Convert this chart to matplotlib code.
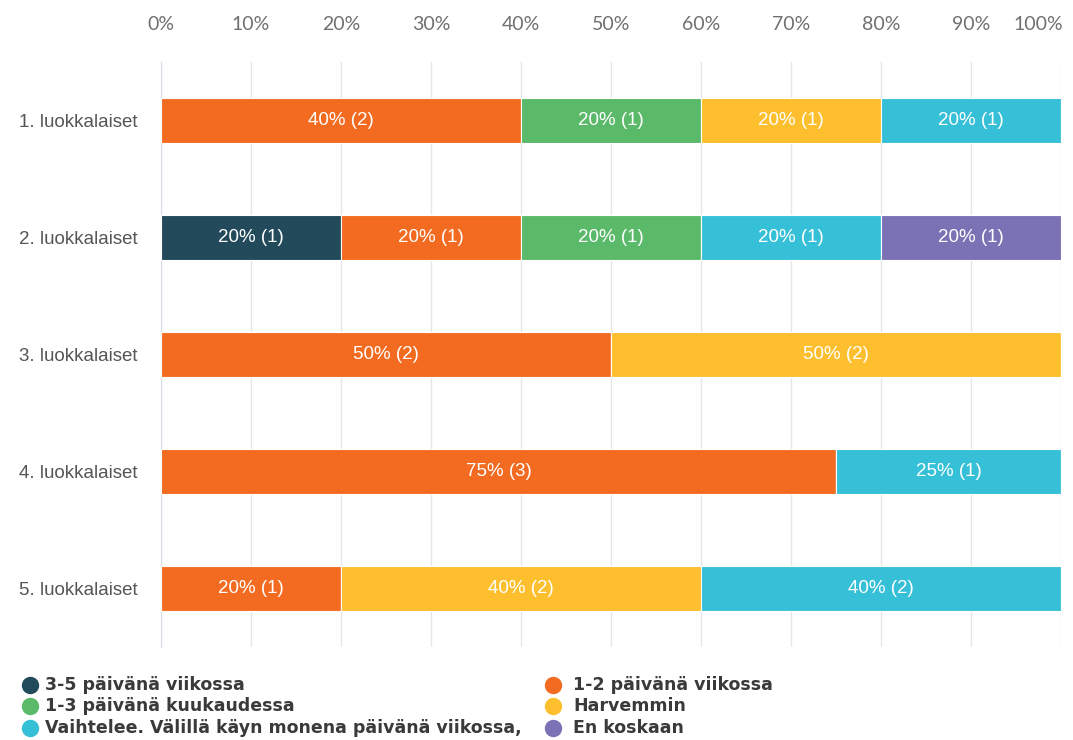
import numpy as np
import matplotlib
matplotlib.use('Agg')
import matplotlib.pyplot as plt
from matplotlib.lines import Line2D

groups = ['1. luokkalaiset', '2. luokkalaiset', '3. luokkalaiset', '4. luokkalaiset', '5. luokkalaiset']
answers = ['3-5 päivänä viikossa', '1-2 päivänä viikossa', '1-3 päivänä kuukaudessa',
           'Harvemmin', 'Vaihtelee. Välillä käyn monena päivänä viikossa,', 'En koskaan']
colors = ['#224a5a', '#f26b21', '#5bb96a', '#fdbf2d', '#36c0d8', '#7a72b5']

# counts per group, one column per answer
counts = np.array([
    [0, 2, 1, 1, 1, 0],
    [1, 1, 1, 0, 1, 1],
    [0, 2, 0, 2, 0, 0],
    [0, 3, 0, 0, 1, 0],
    [0, 1, 0, 2, 2, 0],
])
percents = np.array([
    [0, 40, 20, 20, 20, 0],
    [20, 20, 20, 0, 20, 20],
    [0, 50, 0, 50, 0, 0],
    [0, 75, 0, 0, 25, 0],
    [0, 20, 0, 40, 40, 0],
])
xticks = [0, 10, 20, 30, 40, 50, 60, 70, 80, 90, 100]

W, H = 1073, 740
fig = plt.figure(figsize=(W / 100, H / 100), dpi=100)
ax = fig.add_axes([0.150, 0.126, 0.8388, 0.790])

y = np.arange(len(groups))
left = np.zeros(len(groups))
for j in range(len(answers)):
    ax.barh(y, percents[:, j], left=left, height=0.38, color=colors[j],
            edgecolor='white', linewidth=0.8, zorder=3)
    for i in range(len(groups)):
        if percents[i, j] > 0:
            ax.text(left[i] + percents[i, j] / 2, y[i], f'{percents[i, j]}% ({counts[i, j]})',
                    ha='center', va='center', color='white', fontsize=13.5,
                    family='Liberation Sans', zorder=4)
    left += percents[:, j]

ax.set_xlim(0, 100)
ax.set_ylim(len(groups) - 0.5, -0.5)
ax.set_yticks(y)
ax.set_yticklabels(groups, fontsize=13.5, color='#555555', family='Liberation Sans')
ax.set_xticks(xticks)
# last label is pushed inside the figure, so it is drawn separately
ax.set_xticklabels([f'{t}%' for t in xticks[:-1]] + [''], fontsize=14, color='#707070', family='Lato')
ax.annotate(f'{xticks[-1]}%', xy=(xticks[-1], 1), xycoords=ax.get_xaxis_transform(),
            xytext=(1.5, 21), textcoords='offset points', ha='right', va='bottom',
            fontsize=14, color='#707070', family='Lato')
ax.xaxis.tick_top()
ax.tick_params(axis='x', length=0, pad=21)
ax.tick_params(axis='y', length=0, pad=17)
ax.grid(axis='x', color='#e6e6ea', linewidth=1, zorder=0)
for s in ['top', 'right', 'bottom']:
    ax.spines[s].set_visible(False)
ax.spines['left'].set_color('#d8dce8')

# legend drawn by hand: two columns, three rows
order = [0, 2, 4, 1, 3, 5]
marker_x = [30, 553]
text_x = [45, 573]
row_y = [685, 706, 728]
for n, k in enumerate(order):
    col, row = divmod(n, 3)
    fig.add_artist(Line2D([marker_x[col] / W], [1 - row_y[row] / H], marker='o', linestyle='',
                          markersize=11.5, color=colors[k], transform=fig.transFigure))
    fig.text(text_x[col] / W, 1 - row_y[row] / H, answers[k], ha='left', va='center',
             fontsize=12.5, fontweight='bold', family='DejaVu Sans', color='#3a3a3a')

fig.savefig('out.png', dpi=100)
